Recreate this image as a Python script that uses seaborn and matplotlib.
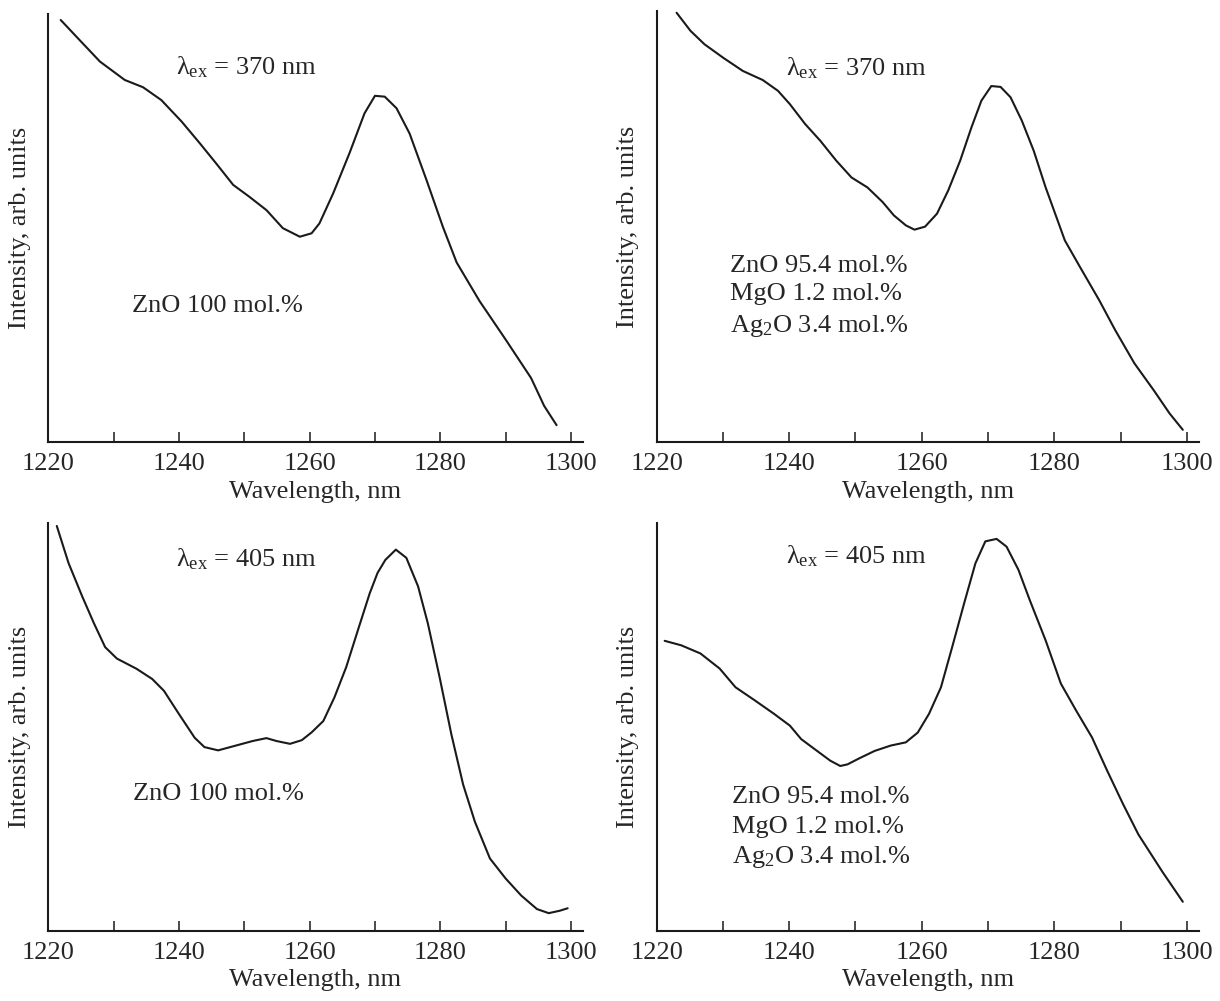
import numpy as np
import pandas as pd
import matplotlib
matplotlib.use("Agg")
import matplotlib.pyplot as plt
import seaborn as sns

# ZnO 100 mol.%, excitation 370 nm (top left)
wl_a = [1221.9, 1224.8, 1227.9, 1231.7, 1234.5, 1237.3, 1240.4, 1243.2, 1245.7, 1248.3,
        1250.8, 1253.4, 1255.9, 1258.5, 1260.3, 1261.5, 1263.6, 1266.1, 1268.4, 1270.0,
        1271.5, 1273.3, 1275.3, 1277.9, 1280.4, 1282.5, 1286.0, 1290.0, 1293.9, 1295.9, 1297.8]
int_a = [0.986, 0.939, 0.889, 0.846, 0.829, 0.799, 0.749, 0.698, 0.651, 0.601,
         0.573, 0.542, 0.500, 0.480, 0.488, 0.511, 0.581, 0.675, 0.768, 0.809,
         0.807, 0.780, 0.721, 0.612, 0.503, 0.420, 0.330, 0.240, 0.150, 0.085, 0.040]

# ZnO/MgO/Ag2O, excitation 370 nm (top right)
wl_b = [1223.0, 1225.1, 1227.2, 1230.0, 1233.0, 1236.0, 1238.3, 1240.1, 1242.4, 1244.7,
        1247.1, 1249.4, 1251.8, 1254.1, 1255.8, 1257.6, 1258.9, 1260.5, 1262.3, 1264.0,
        1265.8, 1267.5, 1269.0, 1270.5, 1271.9, 1273.4, 1275.1, 1276.9, 1278.7, 1281.6,
        1283.9, 1286.8, 1289.2, 1292.1, 1295.0, 1297.4, 1299.4]
int_b = [0.996, 0.954, 0.923, 0.892, 0.861, 0.840, 0.815, 0.784, 0.738, 0.699,
         0.653, 0.614, 0.591, 0.557, 0.526, 0.503, 0.493, 0.500, 0.530, 0.584,
         0.653, 0.730, 0.792, 0.826, 0.824, 0.800, 0.746, 0.676, 0.591, 0.468,
         0.406, 0.329, 0.260, 0.183, 0.121, 0.067, 0.029]

# ZnO 100 mol.%, excitation 405 nm (bottom left)
wl_c = [1221.3, 1223.1, 1225.2, 1227.0, 1228.7, 1230.5, 1233.5, 1235.9, 1237.7, 1240.0,
        1242.4, 1243.9, 1246.0, 1249.0, 1251.3, 1253.4, 1254.9, 1257.0, 1258.8, 1260.3,
        1262.1, 1263.8, 1265.6, 1267.4, 1269.2, 1270.4, 1271.6, 1273.2, 1274.8, 1276.6,
        1278.1, 1279.9, 1281.7, 1283.5, 1285.3, 1287.6, 1290.0, 1292.4, 1294.8, 1296.6,
        1298.3, 1299.5]
int_c = [0.992, 0.901, 0.819, 0.753, 0.695, 0.667, 0.642, 0.617, 0.588, 0.531,
         0.473, 0.450, 0.442, 0.455, 0.465, 0.472, 0.465, 0.458, 0.467, 0.486,
         0.514, 0.572, 0.646, 0.737, 0.827, 0.877, 0.909, 0.934, 0.914, 0.844,
         0.753, 0.621, 0.481, 0.358, 0.267, 0.177, 0.128, 0.086, 0.053, 0.043,
         0.049, 0.055]

# ZnO/MgO/Ag2O, excitation 405 nm (bottom right)
wl_d = [1221.2, 1223.7, 1226.6, 1229.5, 1231.9, 1234.8, 1237.7, 1240.1, 1241.8, 1244.2,
        1246.2, 1247.7, 1248.8, 1250.6, 1252.9, 1255.3, 1257.6, 1259.4, 1261.1, 1262.9,
        1264.6, 1266.4, 1268.1, 1269.6, 1271.3, 1272.8, 1274.6, 1276.3, 1278.7, 1281.0,
        1283.3, 1285.7, 1288.0, 1290.4, 1292.7, 1296.3, 1299.4]
int_d = [0.711, 0.700, 0.680, 0.643, 0.597, 0.565, 0.532, 0.503, 0.470, 0.441,
         0.417, 0.404, 0.408, 0.423, 0.441, 0.454, 0.462, 0.486, 0.532, 0.597,
         0.696, 0.803, 0.901, 0.955, 0.961, 0.942, 0.885, 0.811, 0.712, 0.606,
         0.540, 0.474, 0.392, 0.310, 0.236, 0.145, 0.071]

xticks = [1220, 1230, 1240, 1250, 1260, 1270, 1280, 1290, 1300]
xticklabels = ["1220", "", "1240", "", "1260", "", "1280", "", "1300"]

sns.set_theme(style="ticks")
plt.rcParams["font.family"] = ["Liberation Serif", "DejaVu Serif"]
plt.rcParams["mathtext.fontset"] = "custom"
plt.rcParams["mathtext.rm"] = "Liberation Serif"
plt.rcParams["mathtext.it"] = "Liberation Serif:italic"

W, H = 1220, 1001
fig = plt.figure(figsize=(W / 100, H / 100), dpi=100)


def make_ax(left, right, top, bottom):
    return fig.add_axes([left / W, 1 - bottom / H, (right - left) / W, (bottom - top) / H])


panels = [
    (make_ax(48.3, 582.7, 14, 442.3), wl_a, int_a, "370", 0.858, ["ZnO 100 mol.%"], 1232.8, [0.305]),
    (make_ax(656.7, 1198.7, 11, 442.3), wl_b, int_b, "370", 0.850,
     ["ZnO 95.4 mol.%", "MgO 1.2 mol.%", "Ag$_2$O 3.4 mol.%"], 1231.0, [0.395, 0.329, 0.256]),
    (make_ax(48.3, 582.7, 522.7, 930.7), wl_c, int_c, "405", 0.893, ["ZnO 100 mol.%"], 1232.9, [0.321]),
    (make_ax(656.7, 1198.7, 523, 930.7), wl_d, int_d, "405", 0.901,
     ["ZnO 95.4 mol.%", "MgO 1.2 mol.%", "Ag$_2$O 3.4 mol.%"], 1231.3, [0.314, 0.240, 0.166]),
]

fs = 19
for ax, wl, inten, lam, lam_y, comp, comp_x, comp_y in panels:
    df = pd.DataFrame({"wl": wl, "I": inten})
    sns.lineplot(data=df, x="wl", y="I", ax=ax, color="#1a1a1a", linewidth=1.5,
                 estimator=None, sort=False)
    ax.set_xlim(1220, 1301.8)
    ax.set_ylim(0, 1)
    ax.set_xticks(xticks)
    ax.set_xticklabels(xticklabels, fontsize=fs)
    ax.set_yticks([])
    ax.tick_params(axis="x", direction="in", length=7, width=1.1, pad=8, color="#1a1a1a")
    for s in ["top", "right"]:
        ax.spines[s].set_visible(False)
    for s in ["left", "bottom"]:
        ax.spines[s].set_linewidth(1.5)
        ax.spines[s].set_color("#1a1a1a")
    ax.set_xlabel("Wavelength, nm", fontsize=fs, labelpad=4)
    ax.set_ylabel("Intensity, arb. units", fontsize=fs)
    ax.yaxis.set_label_coords(-0.032, 0.5)
    ax.text(1239.5, lam_y, r"λ$_{\mathrm{ex}}$ = " + lam + " nm", fontsize=fs, va="baseline")
    for t, yy in zip(comp, comp_y):
        ax.text(comp_x, yy, t, fontsize=fs, va="baseline")

fig.savefig("out.png", dpi=100)
